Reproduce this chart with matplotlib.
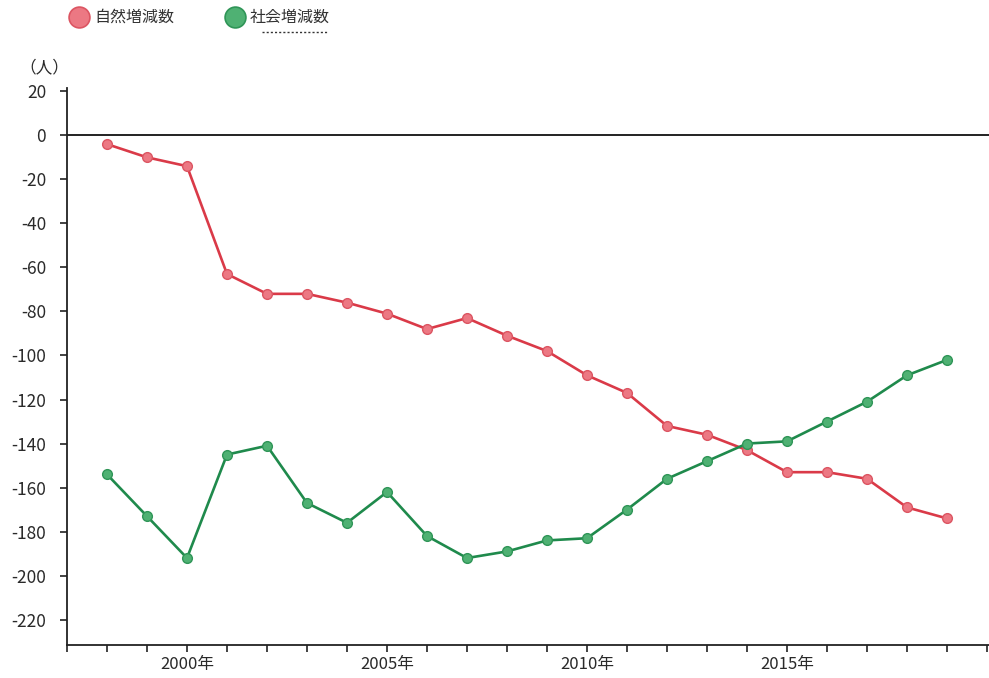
import matplotlib
matplotlib.use("Agg")
import matplotlib.pyplot as plt
from matplotlib.lines import Line2D

plt.rcParams['font.family'] = ['Noto Sans CJK JP', 'DejaVu Sans']
plt.rcParams['axes.unicode_minus'] = False

# population change per year (persons)
years = list(range(1998, 2020))
natural = [-4, -10, -14, -63, -72, -72, -76, -81, -88, -83, -91,
           -98, -109, -117, -132, -136, -143, -153, -153, -156, -169, -174]
social = [-154, -173, -192, -145, -141, -167, -176, -162, -182, -192, -189,
          -184, -183, -170, -156, -148, -140, -139, -130, -121, -109, -102]
series_names = ['自然増減数', '社会増減数']
labelled_years = [2000, 2005, 2010, 2015]
y_ticks = list(range(-220, 21, 20))

W, H = 989, 678
fig = plt.figure(figsize=(W / 100, H / 100), dpi=100)
ax = fig.add_axes([67 / W, 33 / H, 922 / W, 557 / H])

red_line, red_face, red_edge = '#da3a48', '#ec7883', '#dc5562'
green_line, green_face, green_edge = '#1f8a4c', '#4fb173', '#2f9557'
text_col = '#2a2a2a'

ax.axhline(0, color='#111111', lw=1.3, zorder=1)

ax.plot(years, natural, color=red_line, lw=1.9, marker='o', ms=7,
        mfc=red_face, mec=red_edge, mew=1.0, zorder=3)
ax.plot(years, social, color=green_line, lw=1.9, marker='o', ms=7,
        mfc=green_face, mec=green_edge, mew=1.0, zorder=3)

ax.set_xlim(1997, 2020.05)
ax.set_ylim(-231.5, 21.5)

ax.set_yticks(y_ticks)
ax.set_yticklabels([str(v) for v in y_ticks], fontsize=12.5, color=text_col)
ax.set_xticks(list(range(1997, 2021)))
ax.set_xticklabels([f'{y}年' if y in labelled_years else '' for y in range(1997, 2021)],
                   fontsize=12, color=text_col)

ax.tick_params(axis='y', length=5, width=1.2, pad=10, color='#222222')
ax.tick_params(axis='x', length=5, width=1.2, pad=3, color='#222222')

for side in ['top', 'right']:
    ax.spines[side].set_visible(False)
for side in ['left', 'bottom']:
    ax.spines[side].set_linewidth(1.3)
    ax.spines[side].set_color('#222222')

fig.text(44 / W, 1 - 68 / H, '（人）', fontsize=12, ha='center', va='center',
         color=text_col)

# legend row along the top
legend_items = [(79, series_names[0], red_face, red_edge),
                (235, series_names[1], green_face, green_edge)]
for cx, name, face, edge in legend_items:
    fig.add_artist(Line2D([cx / W], [1 - 17 / H], transform=fig.transFigure,
                          marker='o', ms=15, mfc=face, mec=edge, mew=1.2, ls='none'))
    fig.text((cx + 15) / W, 1 - 17 / H, name, fontsize=11.5, ha='left', va='center',
             color='#333333')
fig.add_artist(Line2D([262 / W, 327 / W], [1 - 32 / H, 1 - 32 / H],
                      transform=fig.transFigure, color='#333333', lw=1.0,
                      ls=(0, (1.5, 1.5))))

fig.savefig('out.png', dpi=100)
